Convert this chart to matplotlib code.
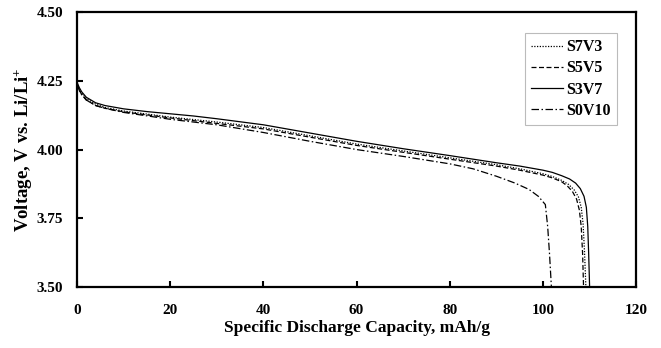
import numpy as np
import matplotlib
matplotlib.use('Agg')
import matplotlib.pyplot as plt

plt.rcParams['font.family'] = ['Liberation Serif', 'DejaVu Serif']
plt.rcParams['font.weight'] = 'bold'
plt.rcParams['mathtext.fontset'] = 'custom'
plt.rcParams['mathtext.rm'] = 'Liberation Serif:bold'
plt.rcParams['mathtext.bf'] = 'Liberation Serif:bold'
plt.rcParams['mathtext.it'] = 'Liberation Serif:bold'

# discharge curves (capacity mAh/g, voltage V)
cap_s7v3 = [0, 0.5, 1, 2, 4, 6, 10, 20, 30, 40, 50, 60, 70, 80, 90, 95, 100, 102, 104, 105.5, 106.7, 107.6, 108.2, 108.6, 108.9, 109.2]
v_s7v3 = [4.24, 4.22, 4.205, 4.185, 4.165, 4.153, 4.14, 4.118, 4.10, 4.08, 4.05, 4.02, 3.995, 3.97, 3.945, 3.93, 3.912, 3.902, 3.888, 3.873, 3.853, 3.828, 3.79, 3.73, 3.63, 3.50]

cap_s5v5 = [0, 0.5, 1, 2, 4, 6, 10, 20, 30, 40, 50, 60, 70, 80, 90, 95, 100, 102, 104, 105.2, 106.3, 107.2, 107.8, 108.2, 108.5, 108.7]
v_s5v5 = [4.24, 4.215, 4.20, 4.18, 4.16, 4.15, 4.137, 4.115, 4.095, 4.075, 4.045, 4.015, 3.99, 3.965, 3.94, 3.925, 3.907, 3.897, 3.883, 3.868, 3.848, 3.82, 3.78, 3.72, 3.62, 3.50]

cap_s3v7 = [0, 0.5, 1, 2, 4, 6, 10, 15, 20, 25, 30, 40, 50, 60, 70, 80, 90, 95, 100, 102, 104, 105.7, 107, 108, 108.8, 109.3, 109.6, 109.8, 110.0]
v_s3v7 = [4.245, 4.225, 4.21, 4.19, 4.17, 4.16, 4.148, 4.138, 4.13, 4.122, 4.112, 4.09, 4.06, 4.03, 4.003, 3.978, 3.952, 3.94, 3.925, 3.917, 3.905, 3.893, 3.878, 3.858, 3.83, 3.79, 3.72, 3.62, 3.50]

cap_s0v10 = [0, 0.5, 1, 2, 4, 6, 10, 20, 30, 40, 50, 60, 70, 80, 85, 90, 94, 97, 99, 100.5, 101.0, 101.4, 101.8]
v_s0v10 = [4.235, 4.215, 4.20, 4.18, 4.16, 4.15, 4.135, 4.11, 4.09, 4.062, 4.03, 4.0, 3.975, 3.948, 3.93, 3.903, 3.878, 3.855, 3.83, 3.80, 3.72, 3.62, 3.50]

labels = ['S7V3', 'S5V5', 'S3V7', 'S0V10']
styles = [(0, (1, 1.2)), (0, (4, 2)), '-', (0, (6, 2, 1.2, 2))]

fig = plt.figure(figsize=(6.61, 3.48), dpi=100)
ax = fig.add_axes([0.1165, 0.175, 0.846, 0.7905])

curves = [(cap_s7v3, v_s7v3), (cap_s5v5, v_s5v5), (cap_s3v7, v_s3v7), (cap_s0v10, v_s0v10)]
for (c, v), lab, ls in zip(curves, labels, styles):
    ax.plot(c, v, color='black', linestyle=ls, linewidth=0.9, label=lab)

ax.set_xlim(0, 120)
ax.set_ylim(3.5, 4.5)
ax.set_xticks(np.arange(0, 121, 20))
ax.set_yticks([3.50, 3.75, 4.00, 4.25, 4.50])
ax.set_yticklabels(['3.50', '3.75', '4.00', '4.25', '4.50'])
ax.tick_params(direction='in', length=4, width=1.5, labelsize=11)
ax.tick_params(axis='x', pad=12)
ax.tick_params(axis='y', pad=10)
for s in ax.spines.values():
    s.set_linewidth(1.6)

ax.set_xlabel('Specific Discharge Capacity, mAh/g', fontsize=12.5, fontweight='bold', labelpad=2)
ax.set_ylabel('Voltage, V vs. Li/Li$^{+}$', fontsize=13.5, fontweight='bold', labelpad=2)

leg = ax.legend(loc='upper right', bbox_to_anchor=(0.966, 0.924), frameon=True, fancybox=False,
                fontsize=11.5, handlelength=2.0, handletextpad=0.2, borderpad=0.4,
                labelspacing=0.32, borderaxespad=0)
leg.get_frame().set_edgecolor('#aaaaaa')
leg.get_frame().set_linewidth(0.8)

fig.savefig('out.png', dpi=100)
